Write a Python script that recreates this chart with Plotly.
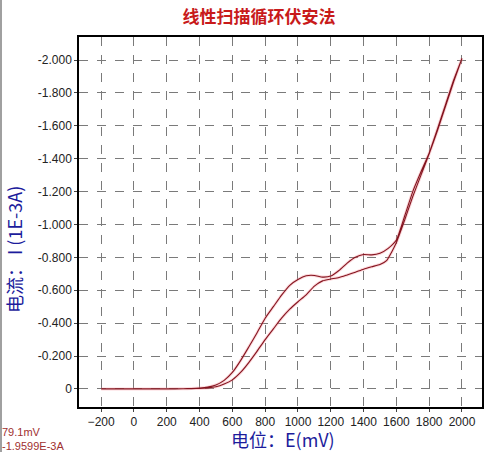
import plotly.graph_objects as go

# forward sweep (lower branch) and reverse sweep (upper branch), current in 1E-3 A
e_forward = [-200, 0, 200, 300, 350, 400, 450, 500, 550, 600, 650, 700, 750, 800, 850,
             900, 950, 1000, 1050, 1100, 1150, 1200, 1250, 1300, 1350, 1400, 1450, 1500,
             1540, 1570, 1600, 1650, 1700, 1750, 1800, 1850, 1900, 1950, 2000]
i_forward = [0, 0, 0, -0.001, -0.002, -0.003, -0.006, -0.013, -0.03, -0.055, -0.10,
             -0.16, -0.228, -0.30, -0.365, -0.43, -0.485, -0.53, -0.572, -0.625, -0.657,
             -0.668, -0.677, -0.693, -0.71, -0.728, -0.743, -0.757, -0.78, -0.83, -0.89,
             -1.025, -1.17, -1.30, -1.43, -1.57, -1.72, -1.87, -2.01]

e_reverse = [2000, 1950, 1900, 1850, 1800, 1750, 1700, 1650, 1600, 1550, 1500, 1450,
             1400, 1350, 1300, 1250, 1200, 1150, 1100, 1050, 1000, 950, 900, 850, 800,
             750, 700, 650, 600, 550, 500, 450, 400, 350, 300, 200, 0, -200]
i_reverse = [-2.01, -1.88, -1.73, -1.58, -1.435, -1.32, -1.20, -1.05, -0.906, -0.855,
             -0.825, -0.815, -0.817, -0.80, -0.765, -0.72, -0.686, -0.68, -0.69, -0.688,
             -0.665, -0.63, -0.57, -0.50, -0.43, -0.34, -0.255, -0.172, -0.10, -0.052,
             -0.024, -0.011, -0.005, -0.002, -0.001, 0, 0, 0]

x_ticks = [-200, 0, 200, 400, 600, 800, 1000, 1200, 1400, 1600, 1800, 2000]
y_ticks = [0, -0.2, -0.4, -0.6, -0.8, -1.0, -1.2, -1.4, -1.6, -1.8, -2.0]
y_ticktext = ["0", "-0.200", "-0.400", "-0.600", "-0.800", "-1.000", "-1.200",
              "-1.400", "-1.600", "-1.800", "-2.000"]

e_all = e_forward + e_reverse
i_all = i_forward + i_reverse

fig = go.Figure()
# faint pink halo under the curve
fig.add_trace(go.Scatter(x=e_all, y=i_all, mode="lines",
                         line=dict(color="rgba(245,140,150,0.35)", width=3,
                                   shape="spline", smoothing=0.5),
                         hoverinfo="skip", showlegend=False))
fig.add_trace(go.Scatter(x=e_all, y=i_all, mode="lines",
                         line=dict(color="#84141f", width=1.1,
                                   shape="spline", smoothing=0.5),
                         showlegend=False))

axis_font = dict(family="Arial, Liberation Sans, sans-serif", size=12, color="#222222")

fig.update_xaxes(range=[-335, 2122], tickvals=x_ticks, ticks="outside", ticklen=3,
                 tickcolor="#444444", tickfont=axis_font, automargin=False,
                 showgrid=True, gridcolor="#7a7a7a", griddash="dash", gridwidth=1,
                 showline=True, linecolor="black", linewidth=1.5, mirror=True,
                 zeroline=False)
fig.update_yaxes(range=[0.11, -2.14], tickvals=y_ticks, ticktext=y_ticktext,
                 ticks="outside", ticklen=3, tickcolor="#444444", tickfont=axis_font,
                 automargin=False,
                 showgrid=True, gridcolor="#7a7a7a", griddash="dash", gridwidth=1,
                 showline=True, linecolor="black", linewidth=1.5, mirror=True,
                 zeroline=False)

fig.update_layout(
    width=495, height=452,
    margin=dict(l=79, r=13, t=37, b=45, autoexpand=False),
    paper_bgcolor="white", plot_bgcolor="white",
    title=dict(text="<b>线性扫描循环伏安法</b>", x=259 / 495, xanchor="center",
               y=1 - 17 / 452, yanchor="middle",
               font=dict(family="Noto Sans CJK SC", size=17, color="#c81a1a")),
)

fig.add_annotation(text="电流： I (1E-3A)", textangle=-90, xref="paper", yref="paper",
                   x=(14 - 79) / 403, y=(407 - 250) / 370, xanchor="center",
                   yanchor="middle", showarrow=False,
                   font=dict(family="Noto Sans CJK SC, Arial", size=18, color="#1c1c9c"))
fig.add_annotation(text="电位：E(mV)", xref="paper", yref="paper",
                   x=(283 - 79) / 403, y=-(439 - 407) / 370, xanchor="center",
                   yanchor="middle", showarrow=False,
                   font=dict(family="Noto Sans CJK SC, Arial", size=18, color="#1c1c9c"))
fig.add_annotation(text="79.1mV", xref="paper", yref="paper",
                   x=(0 - 79) / 403, y=-(432 - 407) / 370, xanchor="left",
                   yanchor="middle", showarrow=False,
                   font=dict(family="Arial, Liberation Sans", size=11, color="#a03030"))
fig.add_annotation(text="-1.9599E-3A", xref="paper", yref="paper",
                   x=(0 - 79) / 403, y=-(446 - 407) / 370, xanchor="left",
                   yanchor="middle", showarrow=False,
                   font=dict(family="Arial, Liberation Sans", size=11, color="#a03030"))
# window edge on the left
fig.add_shape(type="line", xref="paper", yref="paper",
              x0=(1 - 79) / 403, x1=(1 - 79) / 403, y0=-45 / 370, y1=(407) / 370,
              line=dict(color="#a0a0a0", width=2))

# drop the default page margin so the figure sits at the window's corner
fig.write_html("out.html", config={"displayModeBar": False},
               post_script="document.body.style.margin='0';"
                           "document.body.style.overflow='hidden';")
